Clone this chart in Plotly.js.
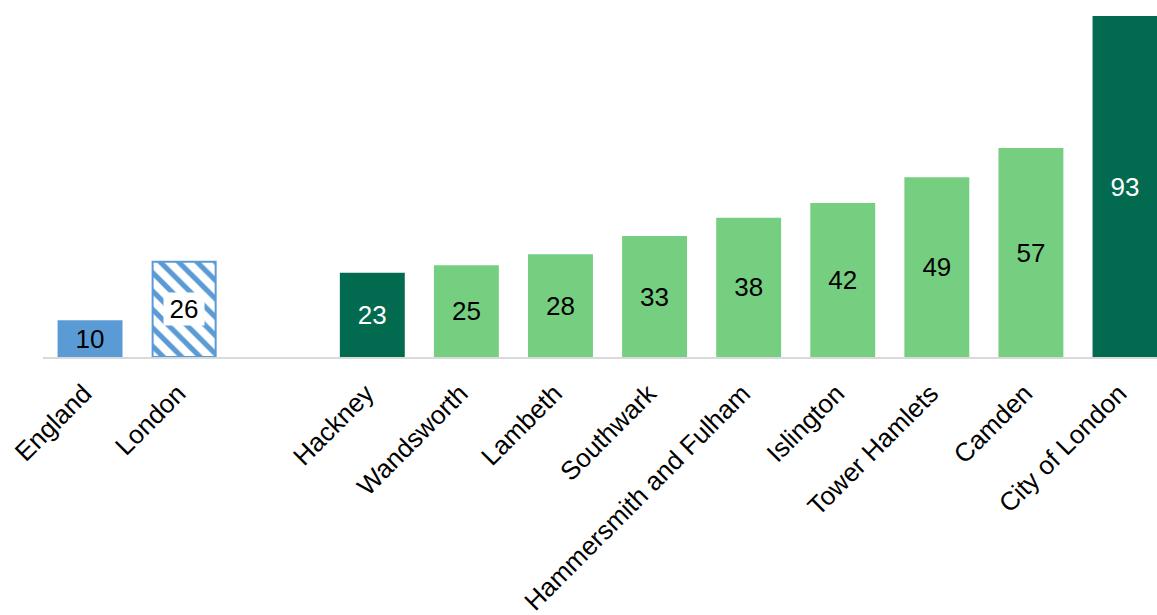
<!DOCTYPE html>
<html>
<head>
<meta charset="utf-8">
<script src="https://cdn.plot.ly/plotly-3.0.1.min.js"></script>
<style>html,body{margin:0;padding:0;background:#fff;}#chart{width:1157px;height:615px;}</style>
</head>
<body>
<div id="chart"></div>
<script>
const categories = ["England", "London", " ", "Hackney", "Wandsworth", "Lambeth", "Southwark", "Hammersmith and Fulham", "Islington", "Tower Hamlets", "Camden", "City of London"];
const values = [10, 26, null, 23, 25, 28, 33, 38, 42, 49, 57, 93];

const BLUE = "#5b9bd5", DARK = "#026a4f", LIGHT = "#76cf80";
const FONT = "Liberation Sans, Arial, sans-serif";
const colors = [BLUE, "#ffffff", LIGHT, DARK, LIGHT, LIGHT, LIGHT, LIGHT, LIGHT, LIGHT, LIGHT, DARK];
const textColors = ["#000", "#000", "#000", "#fff", "#000", "#000", "#000", "#000", "#000", "#000", "#000", "#fff"];

// solid bars (all except London)
const solidY = values.map((v, i) => i === 1 ? null : v);
const solidText = values.map((v, i) => (i === 1 || v === null) ? "" : String(v));

const solid = {
  type: "bar",
  x: categories,
  y: solidY,
  text: solidText,
  textposition: "inside",
  insidetextanchor: "middle",
  textangle: 0,
  textfont: {family: FONT, size: 26, color: textColors},
  hoverinfo: "none",
  marker: {color: colors, line: {width: 0}},
  width: 0.69
};

const london = {
  type: "bar",
  x: [categories[1]],
  y: [values[1]],
  hoverinfo: "none",
  marker: {
    color: "#ffffff",
    line: {color: BLUE, width: 2},
    pattern: {shape: "\\", fgcolor: BLUE, bgcolor: "#ffffff", size: 13, solidity: 0.4}
  },
  width: 0.67
};

const layout = {
  width: 1157, height: 615,
  margin: {l: 43, r: 0, t: 16, b: 258},
  paper_bgcolor: "#fff", plot_bgcolor: "#fff",
  showlegend: false,
  barmode: "overlay",
  xaxis: {
    type: "category",
    categoryorder: "array",
    categoryarray: categories,
    range: [-0.5, 11.34],
    tickangle: -45,
    ticks: "outside", ticklen: 6, tickcolor: "rgba(0,0,0,0)",
    ticklabelshift: -6, ticklabelstandoff: 3,
    showline: true, linecolor: "#d9d9d9", linewidth: 2,
    tickfont: {family: FONT, size: 26, color: "#000"},
    showgrid: false, zeroline: false, fixedrange: true
  },
  yaxis: {
    range: [0, 93],
    visible: false,
    showgrid: false, zeroline: false, fixedrange: true
  },
  annotations: [{
    x: categories[1], y: values[1] / 2, xref: "x", yref: "y",
    text: String(values[1]), showarrow: false,
    font: {family: FONT, size: 26, color: "#000"},
    bgcolor: "#ffffff", width: 40, height: 32, borderpad: 0
  }]
};

Plotly.newPlot("chart", [solid, london], layout, {displayModeBar: false, staticPlot: true});
</script>
</body>
</html>
